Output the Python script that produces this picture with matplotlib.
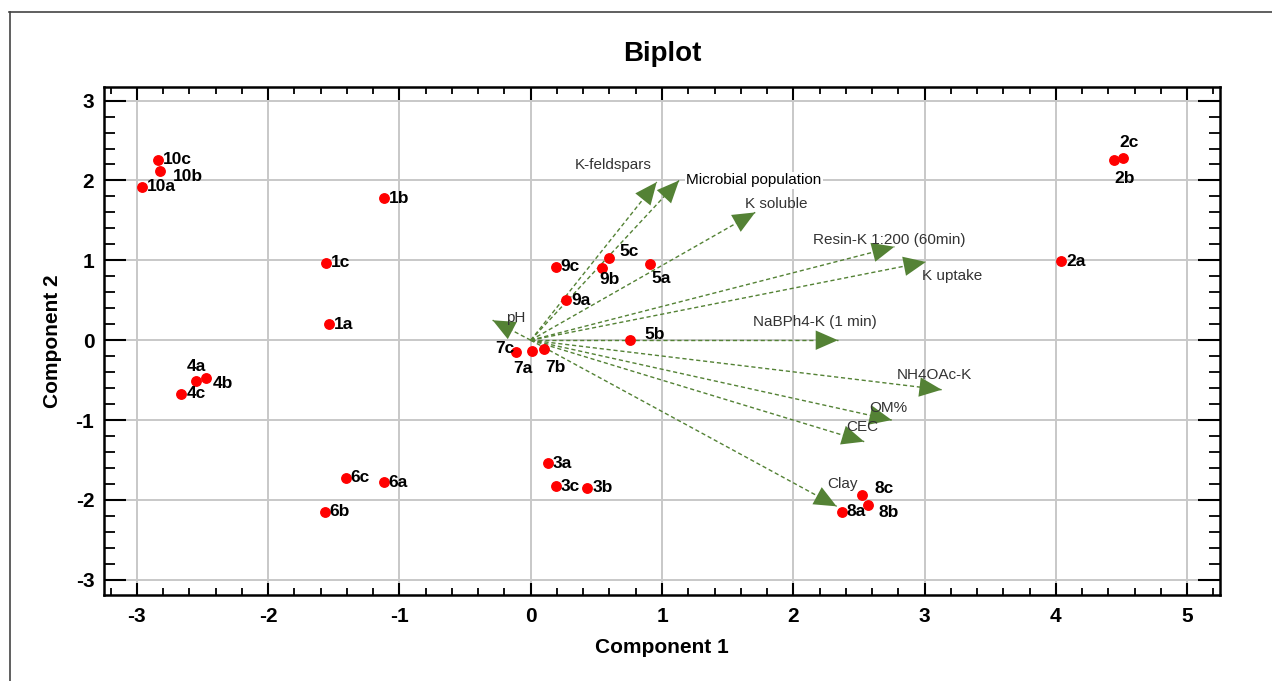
import matplotlib
matplotlib.use("Agg")
import matplotlib.pyplot as plt
from matplotlib.ticker import MultipleLocator
from matplotlib.lines import Line2D
import numpy as np

plt.rcParams['font.family'] = ['Liberation Sans', 'DejaVu Sans']
plt.rcParams['axes.unicode_minus'] = False

# ---- data: sample scores ----
sample_names = ["10c", "10b", "10a", "1b", "1c", "1a",
                "4a", "4b", "4c", "6c", "6a", "6b",
                "9c", "5c", "9b", "5a", "9a", "5b",
                "7c", "7a", "7b",
                "3a", "3c", "3b",
                "8c", "8b", "8a",
                "2c", "2b", "2a"]
comp1 = [-2.84, -2.82, -2.96, -1.12, -1.56, -1.54,
         -2.55, -2.47, -2.66, -1.41, -1.12, -1.57,
         0.19, 0.60, 0.54, 0.91, 0.27, 0.76,
         -0.11, 0.01, 0.10,
         0.13, 0.19, 0.43,
         2.52, 2.57, 2.37,
         4.51, 4.44, 4.04]
comp2 = [2.26, 2.12, 1.92, 1.78, 0.97, 0.20,
         -0.51, -0.47, -0.67, -1.72, -1.78, -2.15,
         0.92, 1.03, 0.91, 0.95, 0.50, 0.00,
         -0.15, -0.14, -0.11,
         -1.54, -1.83, -1.85,
         -1.94, -2.06, -2.15,
         2.28, 2.25, 0.99]

# ---- data: variable loadings (arrow tips) ----
var_names = ["pH", "K-feldspars", "Microbial population", "K soluble",
             "Resin-K 1:200 (60min)", "K uptake", "NaBPh4-K (1 min)",
             "NH4OAc-K", "OM%", "CEC", "Clay"]
load1 = [-0.29, 0.96, 1.13, 1.71, 2.77, 3.01, 2.34, 3.13, 2.75, 2.54, 2.33]
load2 = [0.25, 1.98, 2.00, 1.60, 1.17, 0.98, 0.00, -0.62, -1.00, -1.27, -2.08]

x_ticks = [-3, -2, -1, 0, 1, 2, 3, 4, 5]
y_ticks = [-3, -2, -1, 0, 1, 2, 3]

# ---- layout / style (label placement) ----
# offsets in pixels (dx, dy, ha)
label_offsets = {
    "10b": (12, -6, 'left'), "4a": (0, 14, 'center'), "4b": (6, -6, 'left'),
    "9b": (8, -12, 'center'), "5a": (11, -14, 'center'), "5c": (10, 6, 'left'),
    "5b": (14, 6, 'left'), "7c": (-2, 4, 'right'), "7a": (-9, -17, 'center'),
    "7b": (12, -19, 'center'), "2c": (6, 16, 'center'), "2b": (11, -18, 'center'),
    "8c": (13, 7, 'left'), "8b": (10, -8, 'left'),
}
var_label_pos = {
    "pH": (-0.185, 0.28), "K-feldspars": (0.335, 2.19),
    "Microbial population": (1.186, 2.0), "K soluble": (1.63, 1.71),
    "Resin-K 1:200 (60min)": (2.15, 1.25), "K uptake": (2.98, 0.81),
    "NaBPh4-K (1 min)": (1.69, 0.23), "NH4OAc-K": (2.79, -0.44),
    "OM%": (2.58, -0.85), "CEC": (2.40, -1.09), "Clay": (2.26, -1.80),
}

green = '#548235'

fig = plt.figure(figsize=(12.72, 6.81), dpi=100)
ax = fig.add_axes([104/1272, 1 - 595/681, (1220-104)/1272, (595-87)/681])

# outer frame
fig.add_artist(Line2D([9/1272, 1.0], [1 - 11.5/681, 1 - 11.5/681], transform=fig.transFigure,
                      color='#444444', lw=1.2))
fig.add_artist(Line2D([9.5/1272, 9.5/1272], [0, 1 - 11.5/681], transform=fig.transFigure,
                      color='#444444', lw=1.2))

ax.set_xlim(-3.25, 5.25)
ax.set_ylim(-3.19, 3.17)
ax.set_xticks(x_ticks)
ax.set_yticks(y_ticks)
ax.xaxis.set_minor_locator(MultipleLocator(0.2))
ax.yaxis.set_minor_locator(MultipleLocator(0.2))
ax.grid(True, which='major', color='#c8c8c8', lw=1.4)
ax.set_axisbelow(True)
for s in ax.spines.values():
    s.set_linewidth(1.8)
ax.tick_params(axis='x', which='major', direction='in', length=9, width=1.5,
               top=True, bottom=True, labelsize=15, pad=9)
ax.tick_params(axis='x', which='minor', direction='in', length=5, width=1.3,
               top=True, bottom=True)
ax.tick_params(axis='y', which='major', direction='in', length=16, width=1.5,
               left=True, right=True, labelsize=15, pad=7)
ax.tick_params(axis='y', which='minor', direction='in', length=8, width=1.3,
               left=True, right=True)
for lab in ax.get_xticklabels() + ax.get_yticklabels():
    lab.set_fontweight('bold')

# arrows
for name, lx, ly in zip(var_names, load1, load2):
    ax.plot([0, lx], [0, ly], color=green, lw=1.0, ls=(0, (3, 2)), zorder=3)
    ax.annotate('', xy=(lx, ly), xytext=(lx * 0.995, ly * 0.995),
                arrowprops=dict(arrowstyle='-|>,head_length=1.6,head_width=0.7',
                                color=green, lw=0, shrinkA=0, shrinkB=0,
                                mutation_scale=10), zorder=4)
    tx, ty = var_label_pos[name]
    if name == "Microbial population":
        ax.text(tx, ty, name, fontsize=11, color='black', ha='left', va='center',
                zorder=5, bbox=dict(facecolor='white', edgecolor='none', pad=1))
    else:
        ax.text(tx, ty, name, fontsize=11, color='#333333', ha='left', va='center',
                zorder=5)

# points
ax.plot(comp1, comp2, 'o', color='#ff0000', ms=6.8, mec='#ff0000', zorder=6, ls='none')
for name, x, y in zip(sample_names, comp1, comp2):
    dx, dy, ha = label_offsets.get(name, (5, 0, 'left'))
    ax.annotate(name, (x, y), xytext=(dx, dy), textcoords='offset pixels',
                ha=ha, va='center', fontsize=12.5, fontweight='bold', zorder=7)

ax.set_title('Biplot', fontsize=20, fontweight='bold', pad=19)
ax.set_xlabel('Component 1', fontsize=15, fontweight='bold', labelpad=8)
ax.set_ylabel('Component 2', fontsize=15, fontweight='bold', labelpad=10)

fig.savefig('out.png', dpi=100)
